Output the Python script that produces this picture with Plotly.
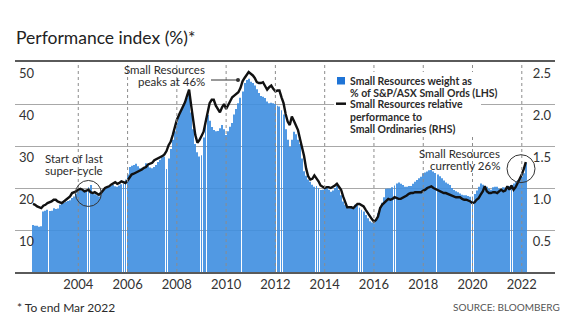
import pandas as pd
import plotly.graph_objects as go

# Small Resources weight as % of S&P/ASX Small Ords (LHS), monthly Mar 2002 - Mar 2022
weight_pct = [
    # 2002 (Mar-Dec)
    11.2, 11.0, 11.0, 10.8, 10.9, 14.4, 14.6, 14.8, 14.5, 14.6,
    # 2003
    15.2, 15.0, 15.1, 16.0, 16.2, 16.4, 16.7, 16.9, 17.1, 17.6, 18.0, 18.7,
    # 2004
    19.3, 19.5, 19.4, 19.6, 19.5, 20.2, 20.7, 19.0, 18.5, 18.3, 18.0, 18.4,
    # 2005
    19.5, 19.8, 20.0, 20.3, 20.5, 20.7, 20.4, 20.3, 20.6, 20.9, 21.1, 22.0,
    # 2006
    23.2, 25.0, 25.3, 25.5, 25.8, 25.2, 24.7, 24.8, 25.0, 25.9, 25.3, 24.9,
    # 2007
    24.7, 25.0, 25.5, 26.2, 26.7, 27.3, 27.5, 24.5, 27.0, 29.3, 31.5, 33.5,
    # 2008
    35.5, 37.5, 38.6, 39.5, 40.2, 41.5, 42.6, 38.0, 34.0, 30.5, 28.5, 27.5,
    # 2009
    27.8, 32.0, 36.6, 37.4, 36.0, 34.5, 33.8, 33.5, 33.6, 34.2, 35.0, 34.0,
    # 2010
    32.6, 33.5, 34.6, 35.5, 37.5, 38.8, 40.2, 41.5, 43.0, 45.0, 45.7, 46.0,
    # 2011
    45.3, 45.0, 44.4, 43.5, 42.6, 41.9, 41.7, 41.4, 40.6, 40.2, 40.3, 40.2,
    # 2012
    40.0, 39.6, 39.4, 38.5, 37.5, 34.0, 31.5, 29.8, 31.5, 33.4, 32.8, 31.5,
    # 2013
    30.5, 27.0, 24.0, 22.9, 22.0, 21.5, 20.8, 20.3, 20.5, 20.0, 19.5, 19.6,
    # 2014
    20.0, 20.3, 19.6, 19.1, 19.4, 20.0, 20.5, 19.5, 18.3, 16.8, 16.0, 15.5,
    # 2015
    15.2, 15.3, 15.5, 16.0, 16.0, 15.3, 14.8, 14.4, 13.6, 12.8, 12.1, 11.8,
    # 2016
    11.6, 12.3, 14.0, 15.5, 16.5, 17.8, 19.8, 19.9, 19.9, 20.2, 20.6, 21.1,
    # 2017
    21.3, 21.0, 20.7, 20.3, 20.3, 20.5, 20.5, 21.0, 21.5, 21.9, 22.3, 22.7,
    # 2018
    23.5, 23.7, 23.9, 24.2, 24.3, 23.9, 23.6, 23.2, 22.8, 22.3, 21.8, 21.3,
    # 2019
    21.0, 20.7, 20.0, 19.5, 19.2, 19.0, 18.7, 18.4, 18.3, 18.3, 18.1, 17.9,
    # 2020
    18.0, 18.6, 19.4, 20.3, 21.1, 20.8, 20.5, 20.3, 19.8, 19.6, 20.2, 20.3,
    # 2021
    20.3, 19.8, 19.6, 20.2, 20.1, 19.9, 20.5, 20.8, 21.1, 21.5, 21.9, 22.5,
    # 2022 (Jan-Mar)
    22.7, 23.5, 26.0,
]

# Small Resources relative performance to Small Ordinaries (RHS)
rel_perf = [
    # 2002 (Mar-Dec)
    0.81, 0.80, 0.78, 0.77, 0.76, 0.79, 0.80, 0.82, 0.83, 0.84,
    # 2003
    0.86, 0.86, 0.84, 0.83, 0.82, 0.84, 0.86, 0.87, 0.90, 0.94, 0.95, 0.96,
    # 2004
    0.98, 0.99, 0.98, 0.96, 0.97, 0.98, 0.95, 0.94, 0.95, 0.93, 0.92, 0.94,
    # 2005
    0.97, 1.00, 1.01, 1.02, 1.04, 1.06, 1.07, 1.05, 1.06, 1.08, 1.07, 1.06,
    # 2006
    1.09, 1.13, 1.16, 1.17, 1.18, 1.20, 1.21, 1.22, 1.24, 1.25, 1.28, 1.29,
    # 2007
    1.30, 1.33, 1.34, 1.36, 1.37, 1.38, 1.40, 1.44, 1.51, 1.55, 1.63, 1.73,
    # 2008
    1.81, 1.87, 1.92, 1.98, 2.02, 2.10, 2.17, 1.98, 1.78, 1.63, 1.54, 1.57,
    # 2009
    1.62, 1.67, 1.78, 1.89, 2.01, 2.05, 2.05, 1.98, 1.93, 1.90, 1.96, 2.00,
    # 2010
    1.94, 1.99, 2.05, 2.08, 2.10, 2.12, 2.14, 2.19, 2.27, 2.31, 2.35, 2.38,
    # 2011
    2.36, 2.34, 2.31, 2.26, 2.25, 2.25, 2.26, 2.21, 2.17, 2.20, 2.22, 2.18,
    # 2012
    2.15, 2.16, 2.16, 2.08, 2.01, 1.88, 1.79, 1.75, 1.85, 1.80, 1.75, 1.69,
    # 2013
    1.58, 1.48, 1.38, 1.23, 1.14, 1.10, 1.11, 1.15, 1.12, 1.08, 1.03, 1.01,
    # 2014
    1.00, 1.01, 1.01, 1.00, 1.01, 1.03, 1.05, 1.02, 0.98, 0.90, 0.83, 0.77,
    # 2015
    0.77, 0.77, 0.76, 0.78, 0.81, 0.81, 0.80, 0.78, 0.74, 0.70, 0.66, 0.63,
    # 2016
    0.60, 0.62, 0.66, 0.76, 0.80, 0.82, 0.85, 0.87, 0.86, 0.87, 0.89, 0.88,
    # 2017
    0.87, 0.87, 0.88, 0.89, 0.91, 0.93, 0.94, 0.94, 0.95, 0.95, 0.95, 0.95,
    # 2018
    0.97, 0.98, 1.00, 1.01, 1.02, 1.00, 0.99, 0.98, 0.96, 0.95, 0.94, 0.94,
    # 2019
    0.93, 0.92, 0.91, 0.90, 0.89, 0.89, 0.89, 0.87, 0.86, 0.86, 0.85, 0.84,
    # 2020
    0.82, 0.83, 0.86, 0.88, 0.92, 0.96, 1.02, 0.96, 0.94, 0.94, 0.95, 0.95,
    # 2021
    0.94, 0.96, 0.98, 0.96, 0.97, 1.02, 0.98, 1.03, 0.98, 1.01, 1.06, 1.11,
    # 2022 (Jan-Mar)
    1.16, 1.23, 1.31,
]

months = pd.date_range("2002-03-01", periods=len(weight_pct), freq="MS")

tick_years = [2004, 2006, 2008, 2010, 2012, 2014, 2016, 2018, 2020, 2022]
lhs_ticks = [10, 20, 30, 40, 50]
rhs_ticks = [0.5, 1.0, 1.5, 2.0, 2.5]

legend_bar = ["Small Resources weight as", "% of S&P/ASX Small Ords (LHS)"]
legend_line = ["Small Resources relative", "performance to", "Small Ordinaries (RHS)"]

# canvas and plot-area geometry (pixels)
W, H = 586, 336
ML, MR, MT, MB = 15, 31, 62, 64
PW, PH = W - ML - MR, H - MT - MB


def px(x):
    return (x - ML) / PW


def py(y):
    return (H - MB - y) / PH


FONT = "Lato"
DARK = "#2b2b2b"
BAR_BLUE = "#3f8fe0"

fig = go.Figure()

fig.add_trace(go.Bar(
    x=months, y=weight_pct, name=" ".join(legend_bar),
    marker=dict(color=BAR_BLUE, line=dict(width=0)),
    opacity=0.9, yaxis="y", showlegend=False,
))
fig.add_trace(go.Scatter(
    x=months, y=rel_perf, name=" ".join(legend_line), mode="lines",
    line=dict(color="#111111", width=2.4), yaxis="y2", showlegend=False,
))

annotations = []
shapes = []

# dotted year guides, drawn over the bars
for yr in tick_years:
    shapes.append(dict(type="line", xref="x", yref="paper",
                       x0=f"{yr}-01-01", x1=f"{yr}-01-01", y0=0, y1=1,
                       line=dict(color="#8c8c8c", width=1, dash="dot"), layer="above"))

# legend block
shapes.append(dict(type="rect", xref="paper", yref="paper",
                   x0=px(334), x1=px(481), y0=py(72), y1=py(136),
                   fillcolor="white", line=dict(width=0), layer="above"))
shapes.append(dict(type="rect", xref="paper", yref="paper",
                   x0=px(337), x1=px(345), y0=py(77), y1=py(84.5),
                   fillcolor="#1f74d6", line=dict(width=0), layer="above"))
shapes.append(dict(type="line", xref="paper", yref="paper",
                   x0=px(336), x1=px(346), y0=py(103.7), y1=py(103.7),
                   line=dict(color="#111111", width=2.5), layer="above"))
for text, yy in zip(legend_bar + legend_line, [80.7, 92.7, 104.5, 116.7, 128.9]):
    annotations.append(dict(text=f"<b>{text}</b>", xref="paper", yref="paper",
                            x=px(348), y=py(yy), xanchor="left", yanchor="middle",
                            showarrow=False, font=dict(size=10.5, color=DARK, family=FONT)))

# callout: peak
for text, yy in zip(["Small Resources", "peaks at 46%"], [69, 81]):
    annotations.append(dict(text=text, xref="paper", yref="paper",
                            x=px(207), y=py(yy), xanchor="right", yanchor="middle",
                            showarrow=False, font=dict(size=11.5, color=DARK, family=FONT)))
shapes.append(dict(type="line", xref="paper", yref="paper",
                   x0=px(211), x1=px(237), y0=py(80), y1=py(80),
                   line=dict(color="#333333", width=1), layer="above"))
shapes.append(dict(type="circle", xref="paper", yref="paper",
                   x0=px(236), x1=px(240), y0=py(78), y1=py(82),
                   fillcolor="#333333", line=dict(width=0), layer="above"))

# callout: start of the cycle
for text, yy in zip(["Start of last", "super-cycle"], [158, 170]):
    annotations.append(dict(text=text, xref="paper", yref="paper",
                            x=px(74), y=py(yy), xanchor="center", yanchor="middle",
                            showarrow=False, font=dict(size=11.5, color=DARK, family=FONT)))
shapes.append(dict(type="circle", xref="x", yref="y",
                   xsizemode="pixel", ysizemode="pixel",
                   xanchor="2004-05-30", yanchor=18.7,
                   x0=-13, x1=13, y0=-13, y1=13,
                   line=dict(color="#333333", width=1), layer="above"))

# callout: current level
for text, yy in zip(["Small Resources", "currently 26%"], [153, 165]):
    annotations.append(dict(text=text, xref="paper", yref="paper",
                            x=px(502), y=py(yy), xanchor="right", yanchor="middle",
                            showarrow=False, font=dict(size=11.5, color=DARK, family=FONT)))
shapes.append(dict(type="circle", xref="x", yref="y",
                   xsizemode="pixel", ysizemode="pixel",
                   xanchor="2021-12-20", yanchor=24.6,
                   x0=-14, x1=14, y0=-14, y1=14,
                   line=dict(color="#333333", width=1), layer="above"))

# footer
annotations.append(dict(text="* To end Mar 2022", xref="paper", yref="paper",
                        x=px(15), y=py(307), xanchor="left", yanchor="middle",
                        showarrow=False, font=dict(size=12, color=DARK, family=FONT)))
annotations.append(dict(text="SOURCE: BLOOMBERG", xref="paper", yref="paper",
                        x=px(562), y=py(307), xanchor="right", yanchor="middle",
                        showarrow=False, font=dict(size=10, color="#555555", family=FONT)))

fig.update_layout(
    width=W, height=H, autosize=False,
    margin=dict(l=ML, r=MR, t=MT, b=MB, pad=0),
    paper_bgcolor="white", plot_bgcolor="white",
    font=dict(family=FONT, color=DARK, size=13),
    title=dict(text="Performance index (%)*", x=16 / W, xanchor="left",
               y=1 - 38 / H, yanchor="middle",
               font=dict(size=17.5, color="#222222", family=FONT)),
    bargap=0.5,
    showlegend=False,
    xaxis=dict(
        type="date", range=["2001-06-07", "2023-05-08"],
        tickvals=[f"{y}-01-01" for y in tick_years],
        ticktext=[str(y) for y in tick_years],
        showgrid=False,
        showline=True, mirror=True, linecolor="#5a5a5a", linewidth=1.5,
        ticks="", tickfont=dict(size=13, color="#333333"),
        zeroline=False,
    ),
    yaxis=dict(
        range=[0, 50], tickvals=lhs_ticks, ticktext=[str(v) for v in lhs_ticks],
        showgrid=True, gridcolor="#a8a8a8", gridwidth=1, zeroline=False,
        ticks="", ticklabelposition="inside", ticklabelshift=11,
        ticklabelstandoff=1, tickfont=dict(size=13, color="#333333"),
    ),
    yaxis2=dict(
        range=[0, 2.5], tickvals=rhs_ticks, ticktext=[f"{v:.1f}" for v in rhs_ticks],
        overlaying="y", side="right", showgrid=False, zeroline=False,
        ticks="", ticklabelposition="inside", ticklabelshift=11,
        ticklabelstandoff=1, tickfont=dict(size=13, color="#333333"),
    ),
    shapes=shapes,
    annotations=annotations,
)

fig.write_html("out.html")
